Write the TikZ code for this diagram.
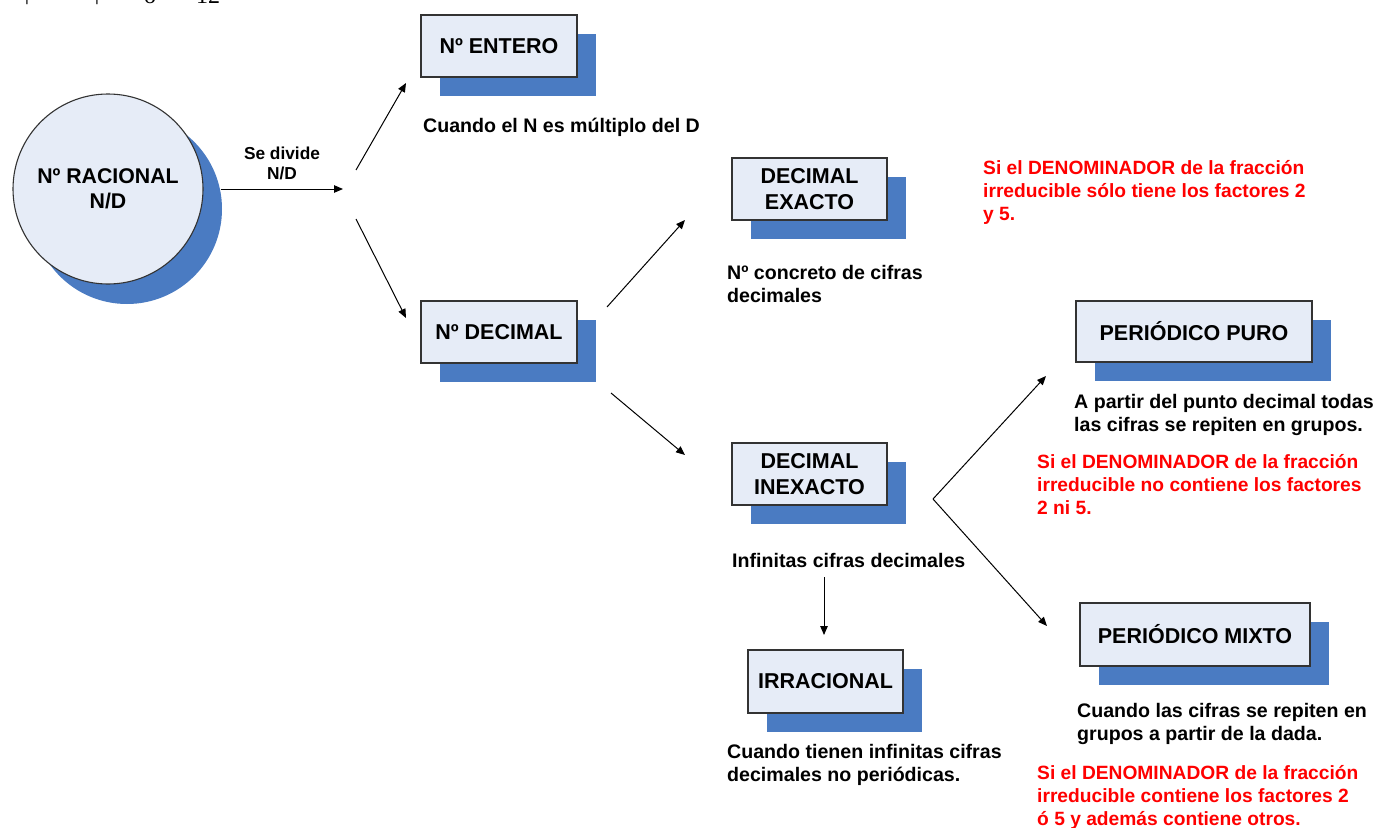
\documentclass[tikz,border=0pt]{standalone}
\usepackage{fontspec}
\setmainfont{Liberation Sans}
\newfontfamily\fragfont{Liberation Serif}
\usetikzlibrary{shadows,arrows.meta}
\definecolor{boxfill}{RGB}{230,236,247}
\definecolor{shadowblue}{RGB}{74,123,194}
\definecolor{redtext}{RGB}{255,0,0}
\begin{document}
\begin{tikzpicture}[x=1pt,y=-1pt,
  box/.style={draw=black!80, line width=1.1pt, fill=boxfill, align=center, inner sep=0pt,
    font=\bfseries\fontsize{21.5}{26.5}\selectfont,
    general shadow={fill=shadowblue, draw=none, shadow xshift=19pt, shadow yshift=-19pt}},
  note/.style={anchor=north west, inner sep=0pt, align=left, font=\bfseries\fontsize{19.6}{23}\selectfont},
  rednote/.style={note, text=redtext, font=\bfseries\fontsize{19.2}{23}\selectfont},
  oneline/.style={anchor=west, inner sep=0pt, font=\bfseries\fontsize{19.6}{23}\selectfont},
  frag/.style={anchor=base, inner sep=0pt, font=\fragfont\fontsize{24}{28}\selectfont},
  conn/.style={draw=black, line width=1pt, -{Triangle[length=9pt,width=7.5pt]}},
]
\useasboundingbox (0,0) rectangle (1380,827);

% fragments of text cut at the top edge
\node[frag] (f1) at (27,-0.5) {|};
\node[frag] (f2) at (97,-0.5) {|};
\node[frag] (f3) at (150,4) {o};
\node[frag] (f4) at (208,3.5) {12};

% root circle
\node[circle, draw=black!80, line width=1.1pt, fill=boxfill, minimum size=190pt, inner sep=0pt,
  align=center, font=\bfseries\fontsize{21.3}{25}\selectfont,
  general shadow={fill=shadowblue, draw=none, shadow xshift=19pt, shadow yshift=-20pt}]
  (racional) at (108,189) {Nº RACIONAL\\N/D};

% boxes
\node[box, minimum width=156pt, minimum height=62pt] (entero) at (499,46) {Nº ENTERO};
\node[box, minimum width=156pt, minimum height=62pt] (decimal) at (499,332) {Nº DECIMAL};
\node[box, minimum width=155pt, minimum height=62pt] (exacto) at (809.5,189) {DECIMAL\\EXACTO};
\node[box, minimum width=155pt, minimum height=62pt] (inexacto) at (809.5,474) {DECIMAL\\INEXACTO};
\node[box, minimum width=236pt, minimum height=61pt] (puro) at (1194,331.5) {PERIÓDICO PURO};
\node[box, minimum width=230pt, minimum height=63pt] (mixto) at (1195,634.5) {PERIÓDICO MIXTO};
\node[box, minimum width=155pt, minimum height=63pt] (irracional) at (825.5,681.5) {IRRACIONAL};

% labels and notes
\node[inner sep=0pt, align=center, font=\bfseries\fontsize{17.3}{20}\selectfont] (divide) at (282,163) {Se divide\\N/D};
\node[oneline] (tentero) at (423,127) {Cuando el N es múltiplo del D};
\node[note] (texacto) at (727,264.7) {Nº concreto de cifras\\decimales};
\node[rednote] (rone) at (983,159.8) {Si el DENOMINADOR de la fracción\\irreducible sólo tiene los factores 2\\y 5.};
\node[note] (tpuro) at (1074,394.5) {A partir del punto decimal todas\\las cifras se repiten en grupos.};
\node[rednote] (rtwo) at (1037,453.8) {Si el DENOMINADOR de la fracción\\irreducible no contiene los factores\\2 ni 5.};
\node[oneline] (tinexacto) at (732,560) {Infinitas cifras decimales};
\node[note] (tirr) at (727,744.5) {Cuando tienen infinitas cifras\\decimales no periódicas.};
\node[note] (tmixto) at (1077,703.5) {Cuando las cifras se repiten en\\grupos a partir de la dada.};
\node[rednote] (rthree) at (1037,764.8) {Si el DENOMINADOR de la fracción\\irreducible contiene los factores 2\\ó 5 y además contiene otros.};

% connector end points
\coordinate (divend) at (343,189);
\coordinate (upstart) at (356,170);
\coordinate (upend) at (406,83);
\coordinate (downstart) at (356,219);
\coordinate (downend) at (406,318);
\coordinate (exstart) at (607,307);
\coordinate (exend) at (685,220);
\coordinate (instart) at (611,393);
\coordinate (inend) at (685,455);
\coordinate (fork) at (933,499);
\coordinate (puroend) at (1046,376);
\coordinate (mixtoend) at (1047,626);
\coordinate (irrstart) at (824,577);
\coordinate (irrend) at (824,635);

% connectors
\draw[conn] ([xshift=17pt]racional.east) -- (divend);
\draw[conn] (upstart) -- (upend);
\draw[conn] (downstart) -- (downend);
\draw[conn] (exstart) -- (exend);
\draw[conn] (instart) -- (inend);
\draw[conn] (fork) -- (puroend);
\draw[conn] (fork) -- (mixtoend);
\draw[conn] (irrstart) -- (irrend);
\end{tikzpicture}
\end{document}
